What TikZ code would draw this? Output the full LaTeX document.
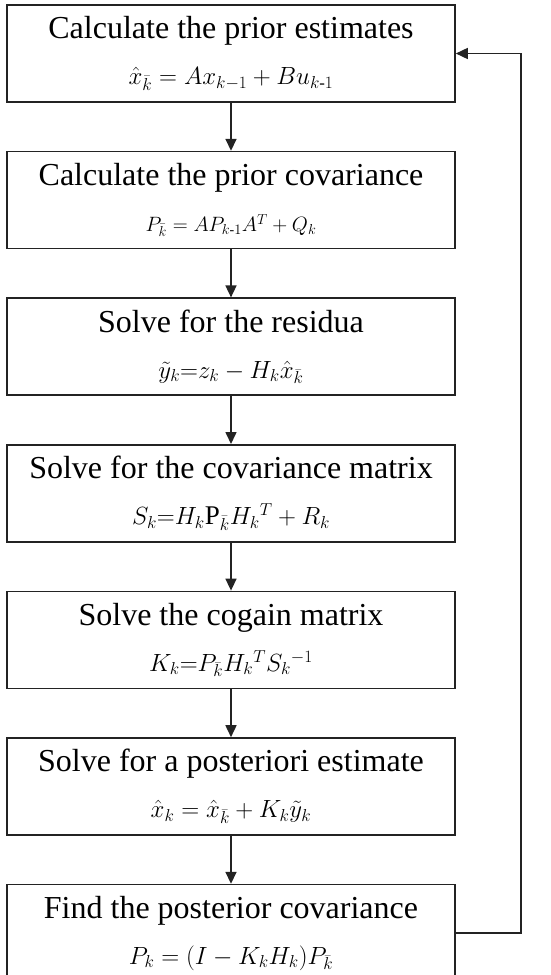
\documentclass[tikz,border=0pt]{standalone}
\usepackage{fontspec}
\setmainfont{Liberation Serif}
\usepackage{amsmath}
\usepackage{tikz}
\usetikzlibrary{arrows.meta, positioning}
\definecolor{mydark}{RGB}{35,35,35}
\tikzset{
  stepbox/.style={rectangle, draw=mydark, fill=white,
    minimum width=448pt, minimum height=97pt, align=center,
    font=\fontsize{32}{36}\selectfont, line width=1.6pt, inner sep=0pt},
  arrow/.style={-{Triangle[length=12pt, width=11pt]}, line width=1.6pt, color=mydark}
}
\newcommand{\eqsize}[1]{\fontsize{#1}{#1}\selectfont}

\begin{document}
\begin{tikzpicture}[node distance=48pt]
  \useasboundingbox (0pt,0pt) rectangle (550pt,-975pt);
  % Kalman filter steps, top to bottom
  \node[stepbox] (prior) at (231pt,-53.5pt)
    {Calculate the prior estimates\\[10pt] {\eqsize{24}$\hat{x}_{\bar{k}} = Ax_{k-1} + Bu_{k\text{-}1}$}};
  \node[stepbox, below=of prior] (pcov)
    {Calculate the prior covariance\\[10pt] {\eqsize{20}$P_{\bar{k}} = AP_{k\text{-}1}A^{T} + Q_{k}$}};
  \node[stepbox, below=of pcov] (resid)
    {Solve for the residua\\[10pt] {\eqsize{27}$\tilde{y}_{k} {=} z_{k} - H_{k}\hat{x}_{\bar{k}}$}};
  \node[stepbox, below=of resid] (scov)
    {Solve for the covariance matrix\\[10pt] {\eqsize{27}$S_{k} {=} H_{k}\mathrm{P}_{\bar{k}}H_{k}{}^{T} + R_{k}$}};
  \node[stepbox, below=of scov] (gain)
    {Solve the cogain matrix\\[10pt] {\eqsize{26}$K_{k} {=} P_{\bar{k}}H_{k}{}^{T}S_{k}{}^{-1}$}};
  \node[stepbox, below=of gain] (post)
    {Solve for a posteriori estimate\\[10pt] {\eqsize{24}$\hat{x}_{k} = \hat{x}_{\bar{k}} + K_{k}\tilde{y}_{k}$}};
  \node[stepbox, below=of post] (pcovpost)
    {Find the posterior covariance\\[10pt] {\eqsize{23}$P_{k} = (I - K_{k}H_{k})P_{\bar{k}}$}};
  % flow arrows
  \draw[arrow] (prior) -- (pcov);
  \draw[arrow] (pcov) -- (resid);
  \draw[arrow] (resid) -- (scov);
  \draw[arrow] (scov) -- (gain);
  \draw[arrow] (gain) -- (post);
  \draw[arrow] (post) -- (pcovpost);
  % feedback loop
  \draw[arrow] (pcovpost.east) -- ++(65pt,0) |- (prior.east);
\end{tikzpicture}
\end{document}
